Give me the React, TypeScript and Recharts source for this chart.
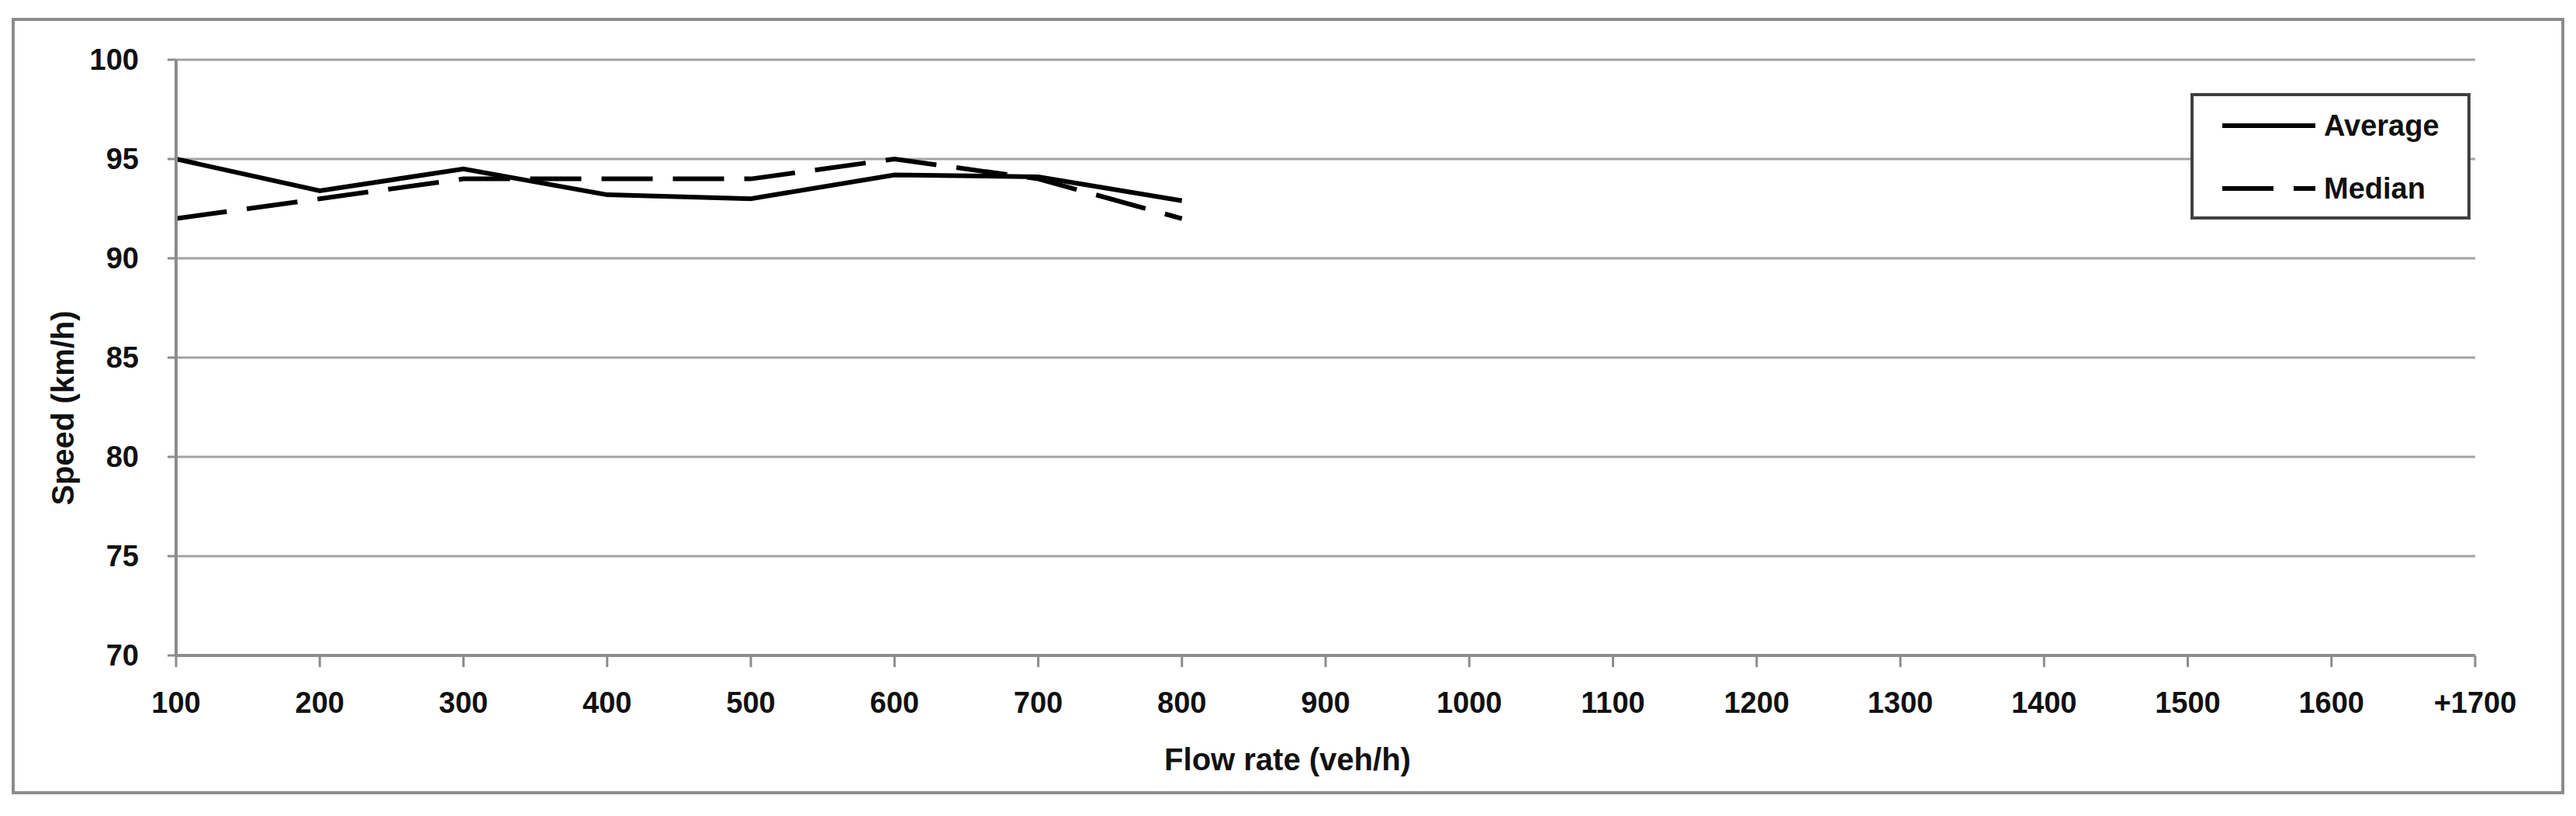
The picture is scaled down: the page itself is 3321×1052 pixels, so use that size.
import { LineChart, Line, XAxis, YAxis, CartesianGrid, Legend, Label } from 'recharts';

// flow-rate classes on the x axis
const flowRates = ['100', '200', '300', '400', '500', '600', '700', '800', '900', '1000', '1100', '1200', '1300', '1400', '1500', '1600', '+1700'];
// speeds (km/h), only up to 800 veh/h
const averageSpeed = [95.0, 93.4, 94.5, 93.2, 93.0, 94.2, 94.1, 92.9];
const medianSpeed = [92.0, 93.0, 94.0, 94.0, 94.0, 95.0, 94.0, 92.0];
const speedTicks = [70, 75, 80, 85, 90, 95, 100];

const data = flowRates.map((flow, i) => ({
  flow,
  average: averageSpeed[i] ?? null,
  median: medianSpeed[i] ?? null,
}));

const FONT = '"Liberation Sans", Arial, sans-serif';
const GRID = '#a3a3a3';
const AXIS = '#8c8c8c';
const DASH = '66 26';

function LegendBox() {
  return (
    <div style={{ width: 361, height: 163, border: '4px solid #404040', boxSizing: 'border-box', background: '#fff' }}>
      <svg width={353} height={155} style={{ display: 'block' }}>
        <line x1={37} x2={157} y1={38} y2={38} stroke="#000" strokeWidth={6} />
        <text x={168} y={51} fontFamily={FONT} fontWeight="bold" fontSize={38} fill="#111">Average</text>
        <line x1={37} x2={157} y1={119} y2={119} stroke="#000" strokeWidth={6} strokeDasharray={DASH} />
        <text x={168} y={132} fontFamily={FONT} fontWeight="bold" fontSize={38} fill="#111">Median</text>
      </svg>
    </div>
  );
}

export default function App() {
  return (
    <div style={{ position: 'absolute', left: 0, top: 0, width: 3321, height: 1052, background: '#fff' }}>
      <div
        style={{
          position: 'absolute',
          left: 15,
          top: 23,
          width: 3291,
          height: 1001,
          border: '4px solid #8c8c8c',
          boxSizing: 'border-box',
        }}
      />
      <div style={{ position: 'absolute', left: 0, top: 0 }}>
        <LineChart width={3321} height={1052} data={data} margin={{ top: 77, right: 130, bottom: 127, left: 77 }}>
          <CartesianGrid vertical={false} stroke={GRID} strokeWidth={3} />
          <XAxis
            dataKey="flow"
            height={80}
            interval={0}
            tickSize={15}
            tickMargin={32}
            axisLine={{ stroke: AXIS, strokeWidth: 4 }}
            tickLine={{ stroke: AXIS, strokeWidth: 3 }}
            tick={{ fontFamily: FONT, fontWeight: 'bold', fontSize: 38, fill: '#111' }}
          >
            <Label
              content={() => (
                <text x={1660} y={993} textAnchor="middle" fontFamily={FONT} fontWeight="bold" fontSize={40} fill="#111">
                  Flow rate (veh/h)
                </text>
              )}
            />
          </XAxis>
          <YAxis
            width={150}
            domain={[70, 100]}
            ticks={speedTicks}
            allowDataOverflow
            tickSize={11}
            tickMargin={37}
            axisLine={{ stroke: AXIS, strokeWidth: 4 }}
            tickLine={{ stroke: AXIS, strokeWidth: 3 }}
            tick={{ fontFamily: FONT, fontWeight: 'bold', fontSize: 38, fill: '#111' }}
          >
            <Label
              content={() => (
                <text
                  x={95}
                  y={526}
                  transform="rotate(-90, 95, 526)"
                  textAnchor="middle"
                  fontFamily={FONT}
                  fontWeight="bold"
                  fontSize={40}
                  fill="#111"
                >
                  Speed (km/h)
                </text>
              )}
            />
          </YAxis>
          <Legend
            layout="vertical"
            align="center"
            verticalAlign="middle"
            wrapperStyle={{ left: 2824, top: 120, width: 361, height: 163 }}
            content={() => <LegendBox />}
          />
          <Line
            type="linear"
            dataKey="average"
            name="Average"
            stroke="#000"
            strokeWidth={6}
            dot={false}
            activeDot={false}
            isAnimationActive={false}
          />
          <Line
            type="linear"
            dataKey="median"
            name="Median"
            stroke="#000"
            strokeWidth={6}
            strokeDasharray={DASH}
            dot={false}
            activeDot={false}
            isAnimationActive={false}
          />
        </LineChart>
      </div>
    </div>
  );
}
